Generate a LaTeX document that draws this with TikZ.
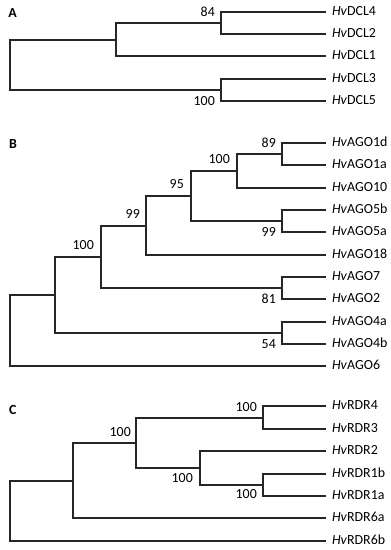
\documentclass[tikz,border=0pt]{standalone}
\usepackage{fontspec}
\setmainfont{Carlito}
\begin{document}
\begin{tikzpicture}[x=1pt,y=-1pt,
  every node/.style={font=\fontsize{13.9pt}{16pt}\selectfont},
  leaf/.style={anchor=west,inner sep=0pt,outer xsep=7pt,outer ysep=0pt,text height=8.8pt,text depth=0pt},
  boot/.style={anchor=east,inner sep=0pt,text height=8.7pt,text depth=0pt},
  panel/.style={font=\fontsize{13.9pt}{16pt}\selectfont\bfseries,inner sep=0pt,text height=8.8pt,text depth=0pt},
  br/.style={line width=2pt,line cap=rect,black!85}]
\useasboundingbox (0,0) rectangle (391,550);
% ---------- Panel A ----------
\node[panel] (lA) at (12.7,13) {A};
\node[leaf] (dcl4) at (325,11.5) {\textit{Hv}DCL4};
\node[leaf] (dcl2) at (325,33.5) {\textit{Hv}DCL2};
\node[leaf] (dcl1) at (325,55.5) {\textit{Hv}DCL1};
\node[leaf] (dcl3) at (325,78.5) {\textit{Hv}DCL3};
\node[leaf] (dcl5) at (325,100.5) {\textit{Hv}DCL5};
\coordinate (a1) at (220.5,22.5);
\coordinate (a2) at (115.5,39.5);
\coordinate (a3) at (220.5,89.5);
\coordinate (ar) at (9.5,64.5);
\draw[br] (a1) |- (dcl4); \draw[br] (a1) |- (dcl2);
\draw[br] (a2) |- (a1); \draw[br] (a2) |- (dcl1);
\draw[br] (a3) |- (dcl3); \draw[br] (a3) |- (dcl5);
\draw[br] (ar) |- (a2); \draw[br] (ar) |- (a3);
\node[boot] (ba1) at (215,12.5) {84};
\node[boot] (ba3) at (215,100.7) {100};
% ---------- Panel B ----------
\node[panel] (lB) at (13,143.7) {B};
\node[leaf] (g1d) at (325,142.5) {\textit{Hv}AGO1d};
\node[leaf] (g1a) at (325,164.5) {\textit{Hv}AGO1a};
\node[leaf] (g10) at (325,187.5) {\textit{Hv}AGO10};
\node[leaf] (g5b) at (325,209.5) {\textit{Hv}AGO5b};
\node[leaf] (g5a) at (325,231.5) {\textit{Hv}AGO5a};
\node[leaf] (g18) at (325,254.5) {\textit{Hv}AGO18};
\node[leaf] (g7) at (325,276.5) {\textit{Hv}AGO7};
\node[leaf] (g2) at (325,298.5) {\textit{Hv}AGO2};
\node[leaf] (g4a) at (325,321.5) {\textit{Hv}AGO4a};
\node[leaf] (g4b) at (325,343.5) {\textit{Hv}AGO4b};
\node[leaf] (g6) at (325,365.5) {\textit{Hv}AGO6};
\coordinate (b89) at (281.5,153.5);
\coordinate (b100a) at (236.5,170.5);
\coordinate (b99b) at (281.5,220.5);
\coordinate (b95) at (190.5,195.5);
\coordinate (b99a) at (145.5,225.5);
\coordinate (b81) at (281.5,287.5);
\coordinate (b100b) at (100.5,256.5);
\coordinate (b54) at (281.5,332.5);
\coordinate (bn) at (54.5,294.5);
\coordinate (br) at (9.5,330.5);
\draw[br] (b89) |- (g1d); \draw[br] (b89) |- (g1a);
\draw[br] (b100a) |- (b89); \draw[br] (b100a) |- (g10);
\draw[br] (b99b) |- (g5b); \draw[br] (b99b) |- (g5a);
\draw[br] (b95) |- (b100a); \draw[br] (b95) |- (b99b);
\draw[br] (b99a) |- (b95); \draw[br] (b99a) |- (g18);
\draw[br] (b81) |- (g7); \draw[br] (b81) |- (g2);
\draw[br] (b100b) |- (b99a); \draw[br] (b100b) |- (b81);
\draw[br] (b54) |- (g4a); \draw[br] (b54) |- (g4b);
\draw[br] (bn) |- (b100b); \draw[br] (bn) |- (b54);
\draw[br] (br) |- (bn); \draw[br] (br) |- (g6);
\node[boot] (lb89) at (276,142.7) {89};
\node[boot] (lb100a) at (230,159.3) {100};
\node[boot] (lb95) at (184,184.3) {95};
\node[boot] (lb99a) at (140,214.3) {99};
\node[boot] (lb99b) at (276,231.7) {99};
\node[boot] (lb100b) at (94,245) {100};
\node[boot] (lb81) at (276,299.3) {81};
\node[boot] (lb54) at (276,344) {54};
% ---------- Panel C ----------
\node[panel] (lC) at (12.7,410) {C};
\node[leaf] (r4) at (325,405.5) {\textit{Hv}RDR4};
\node[leaf] (r3) at (325,428.5) {\textit{Hv}RDR3};
\node[leaf] (r2) at (325,450.5) {\textit{Hv}RDR2};
\node[leaf] (r1b) at (325,473.5) {\textit{Hv}RDR1b};
\node[leaf] (r1a) at (325,495.5) {\textit{Hv}RDR1a};
\node[leaf] (r6a) at (325,517.5) {\textit{Hv}RDR6a};
\node[leaf] (r6b) at (325,540.5) {\textit{Hv}RDR6b};
\coordinate (c1) at (262.5,417.5);
\coordinate (c3) at (262.5,484.5);
\coordinate (c2) at (199.5,467.5);
\coordinate (c4) at (135.5,442.5);
\coordinate (c5) at (72.5,480.5);
\coordinate (cr) at (9.5,510.5);
\draw[br] (c1) |- (r4); \draw[br] (c1) |- (r3);
\draw[br] (c3) |- (r1b); \draw[br] (c3) |- (r1a);
\draw[br] (c2) |- (r2); \draw[br] (c2) |- (c3);
\draw[br] (c4) |- (c1); \draw[br] (c4) |- (c2);
\draw[br] (c5) |- (c4); \draw[br] (c5) |- (r6a);
\draw[br] (cr) |- (c5); \draw[br] (cr) |- (r6b);
\node[boot] (lc1) at (257,406.7) {100};
\node[boot] (lc4) at (131,431.7) {100};
\node[boot] (lc2) at (193,477.7) {100};
\node[boot] (lc3) at (257,494.3) {100};
\end{tikzpicture}
\end{document}
